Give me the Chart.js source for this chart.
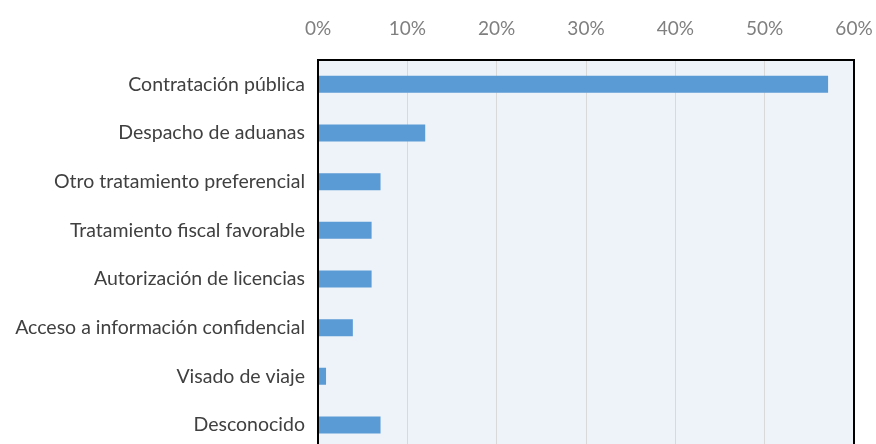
<!DOCTYPE html>
<html>
<head>
<meta charset="utf-8">
<script src="https://cdn.jsdelivr.net/npm/chart.js@4/dist/chart.umd.min.js"></script>
<style>
  html, body { margin: 0; padding: 0; background: #fff; overflow: hidden; }
</style>
</head>
<body>
<canvas id="benefitsChart" width="876" height="474"></canvas>
<script>
// --- DATA ---
const categories = [
    'Contratación pública',
    'Despacho de aduanas',
    'Otro tratamiento preferencial',
    'Tratamiento fiscal favorable',
    'Autorización de licencias',
    'Acceso a información confidencial',
    'Visado de viaje',
    'Desconocido'
];
const shares = [57.1, 12.0, 7.0, 6.0, 6.0, 3.9, 0.9, 7.0];
const tickMax = 60;
const tickStep = 10;

// Plot background + black frame around the chart area
const frame = {
    id: 'frame',
    beforeDraw(chart) {
        const { ctx, chartArea: a } = chart;
        ctx.save();
        ctx.fillStyle = '#eef3f9';
        ctx.fillRect(a.left, a.top, a.right - a.left, a.bottom - a.top);
        ctx.restore();
    },
    afterDraw(chart) {
        const { ctx, chartArea: a } = chart;
        ctx.save();
        ctx.strokeStyle = '#000';
        ctx.lineWidth = 2;
        ctx.strokeRect(a.left, a.top, a.right - a.left, a.bottom - a.top);
        ctx.restore();
    }
};

new Chart(document.getElementById('benefitsChart'), {
    type: 'bar',
    data: {
        labels: categories,
        datasets: [{
            data: shares,
            backgroundColor: '#5b9bd5',
            borderWidth: 0,
            barPercentage: 0.35,
            categoryPercentage: 1
        }]
    },
    options: {
        indexAxis: 'y',
        responsive: false,
        animation: false,
        layout: { padding: { left: 0, right: 22, top: 0, bottom: 2 } },
        plugins: {
            legend: { display: false },
            tooltip: { enabled: false }
        },
        scales: {
            x: {
                position: 'top',
                min: 0,
                max: tickMax,
                grid: { color: '#d9d9d9', drawTicks: false },
                border: { display: false },
                afterFit(axis) {
                    axis.height = 60;
                    axis.paddingLeft = 0;
                    axis.paddingRight = 0;
                },
                ticks: {
                    stepSize: tickStep,
                    padding: 20,
                    color: '#7f7f7f',
                    font: { family: 'Lato', size: 19 },
                    callback: v => v + '%'
                }
            },
            y: {
                grid: { display: false, drawTicks: false },
                border: { display: false },
                afterFit(axis) { axis.width = 318; },
                ticks: {
                    padding: 13,
                    color: '#404040',
                    font: { family: 'Lato', size: 19.5 }
                }
            }
        }
    },
    plugins: [frame]
});
</script>
</body>
</html>
